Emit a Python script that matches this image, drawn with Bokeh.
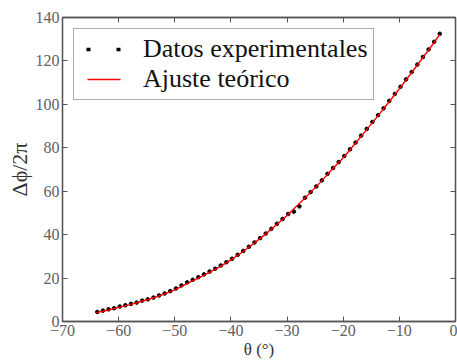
from bokeh.plotting import figure
from bokeh.models import Range1d, LinearAxis, FixedTicker, Legend, LegendItem, ColumnDataSource
from bokeh.embed import file_html
from bokeh.resources import INLINE

theta_exp = [-63.8, -62.8, -61.8, -60.8, -59.8, -58.8, -57.8, -56.8, -55.8, -54.8,
             -53.8, -52.8, -51.8, -50.8, -49.8, -48.8, -47.8, -46.8, -45.8, -44.8,
             -43.8, -42.8, -41.8, -40.8, -39.8, -38.8, -37.8, -36.8, -35.8, -34.8,
             -33.8, -32.8, -31.8, -30.8, -29.8, -28.8, -27.8, -26.8, -25.8, -24.8,
             -23.8, -22.8, -21.8, -20.8, -19.8, -18.8, -17.8, -16.8, -15.8, -14.8,
             -13.8, -12.8, -11.8, -10.8, -9.8, -8.8, -7.8, -6.8, -5.8, -4.8,
             -3.8, -2.8]
dphi_exp = [4.4, 5.0, 5.6, 6.1, 6.9, 7.5, 8.1, 8.7, 9.6, 10.2,
            11.0, 12.0, 12.9, 14.0, 15.2, 16.6, 18.0, 19.2, 20.4, 21.7,
            23.0, 24.3, 25.8, 27.3, 28.9, 30.7, 32.5, 34.4, 36.4, 38.4,
            40.5, 42.7, 45.0, 47.2, 49.5, 50.6, 53.0, 57.0, 59.6, 62.2,
            65.0, 68.0, 70.7, 73.4, 76.2, 79.3, 82.4, 85.6, 88.7, 91.9,
            95.0, 98.2, 101.6, 104.8, 108.1, 111.5, 114.9, 118.3, 121.8, 125.3,
            128.8, 132.5]

# Theoretical fit curve
theta_fit = [-64, -62, -60, -58, -56, -54, -52, -50, -48, -46, -44, -42, -40, -38, -36,
             -34, -32, -30, -28, -26, -24, -22, -20, -18, -16, -14, -12, -10, -8, -6,
             -4, -2.8]
dphi_fit = [4.1, 5.2, 6.5, 7.8, 9.2, 10.7, 12.5, 14.6, 17.2, 19.8, 22.4, 25.2, 28.4, 31.9, 35.8,
            39.9, 44.3, 48.8, 53.9, 59.0, 64.3, 70.0, 75.4, 81.5, 87.8, 94.1, 100.6, 107.2, 114.0, 120.9,
            127.8, 132.2]

x_ticks = [-70, -60, -50, -40, -30, -20, -10, 0]
x_tick_labels = ["\u221270", "\u221260", "\u221250", "\u221240", "\u221230", "\u221220", "\u221210", "0"]
y_ticks = [0, 20, 40, 60, 80, 100, 120, 140]
y_tick_labels = ["0", "20", "40", "60", "80", "100", "120", "140"]

label_exp = "Datos experimentales"
label_fit = "Ajuste te\u00f3rico"
x_label = "\u03b8 (\u00b0)"
y_label = "\u0394\u03d5/2\u03c0"

FONT = "Liberation Serif"
SPINE = "#555555"
RED = "#ff0000"

p = figure(width=457, height=361, output_backend="svg", toolbar_location=None,
           x_range=Range1d(-70, 0), y_range=Range1d(0, 140))
p.min_border_left = 62
p.min_border_right = 2
p.min_border_top = 17
p.min_border_bottom = 39
p.background_fill_color = "white"
p.border_fill_color = "white"
p.outline_line_color = SPINE
p.outline_line_width = 1.3
p.grid.visible = False

src_exp = ColumnDataSource(dict(x=theta_exp, y=dphi_exp))
src_fit = ColumnDataSource(dict(x=theta_fit, y=dphi_fit))

p.scatter("x", "y", source=src_exp, size=3.6, color="black", marker="circle")
p.line("x", "y", source=src_fit, line_color=RED, line_width=1.4)

# hidden renderers, used only to draw the legend glyphs (two dots / short red line)
leg_dots = p.line("x", "y", source=src_exp, line_color="black", line_width=3.5,
                  line_dash="4 26", line_dash_offset=23, line_cap="butt", visible=False)
leg_line = p.line("x", "y", source=src_fit, line_color=RED, line_width=1.3,
                  line_dash="33 100", line_dash_offset=125, line_cap="butt", visible=False)


def style_axis(ax, ticks, labels, show_labels=True):
    ax.ticker = FixedTicker(ticks=ticks)
    ax.major_tick_in = 5
    ax.major_tick_out = 0
    ax.minor_tick_in = 0
    ax.minor_tick_out = 0
    ax.axis_line_color = SPINE
    ax.axis_line_width = 1.3
    ax.major_tick_line_color = SPINE
    ax.major_tick_line_width = 1
    ax.major_label_text_font = FONT
    ax.major_label_text_color = "#606060"
    if show_labels:
        ax.major_label_overrides = dict(zip(ticks, labels))
        ax.major_label_text_font_size = "16px"
        ax.major_label_standoff = 3
    else:
        ax.major_label_overrides = {t: "" for t in ticks}
        ax.major_label_text_font_size = "1px"
        ax.major_label_standoff = 0


xa = p.xaxis[0]
ya = p.yaxis[0]
style_axis(xa, x_ticks, x_tick_labels)
style_axis(ya, y_ticks, y_tick_labels)
xa.axis_label = x_label
ya.axis_label = y_label
for ax, fs in ((xa, "17px"), (ya, "22px")):
    ax.axis_label_text_font = FONT
    ax.axis_label_text_font_style = "normal"
    ax.axis_label_text_font_size = fs
    ax.axis_label_text_color = "#333333"
    ax.axis_label_standoff = 1

top = LinearAxis()
right = LinearAxis()
style_axis(top, x_ticks, x_tick_labels, show_labels=False)
style_axis(right, y_ticks, y_tick_labels, show_labels=False)
p.add_layout(top, "above")
p.add_layout(right, "right")

legend = Legend(items=[LegendItem(label=label_exp, renderers=[leg_dots]),
                       LegendItem(label=label_fit, renderers=[leg_line])],
                location="top_left")
legend.margin = 11
legend.padding = 5
legend.spacing = 0
legend.glyph_width = 42
legend.glyph_height = 24
legend.label_height = 24
legend.label_standoff = 22
legend.label_text_font = FONT
legend.label_text_font_size = "26px"
legend.label_text_color = "#111111"
legend.border_line_color = SPINE
legend.border_line_width = 1.5
legend.background_fill_color = "white"
legend.background_fill_alpha = 1.0
legend.inactive_fill_alpha = 0.0
p.add_layout(legend, "center")

open("out.html", "w").write(file_html(p, INLINE))
